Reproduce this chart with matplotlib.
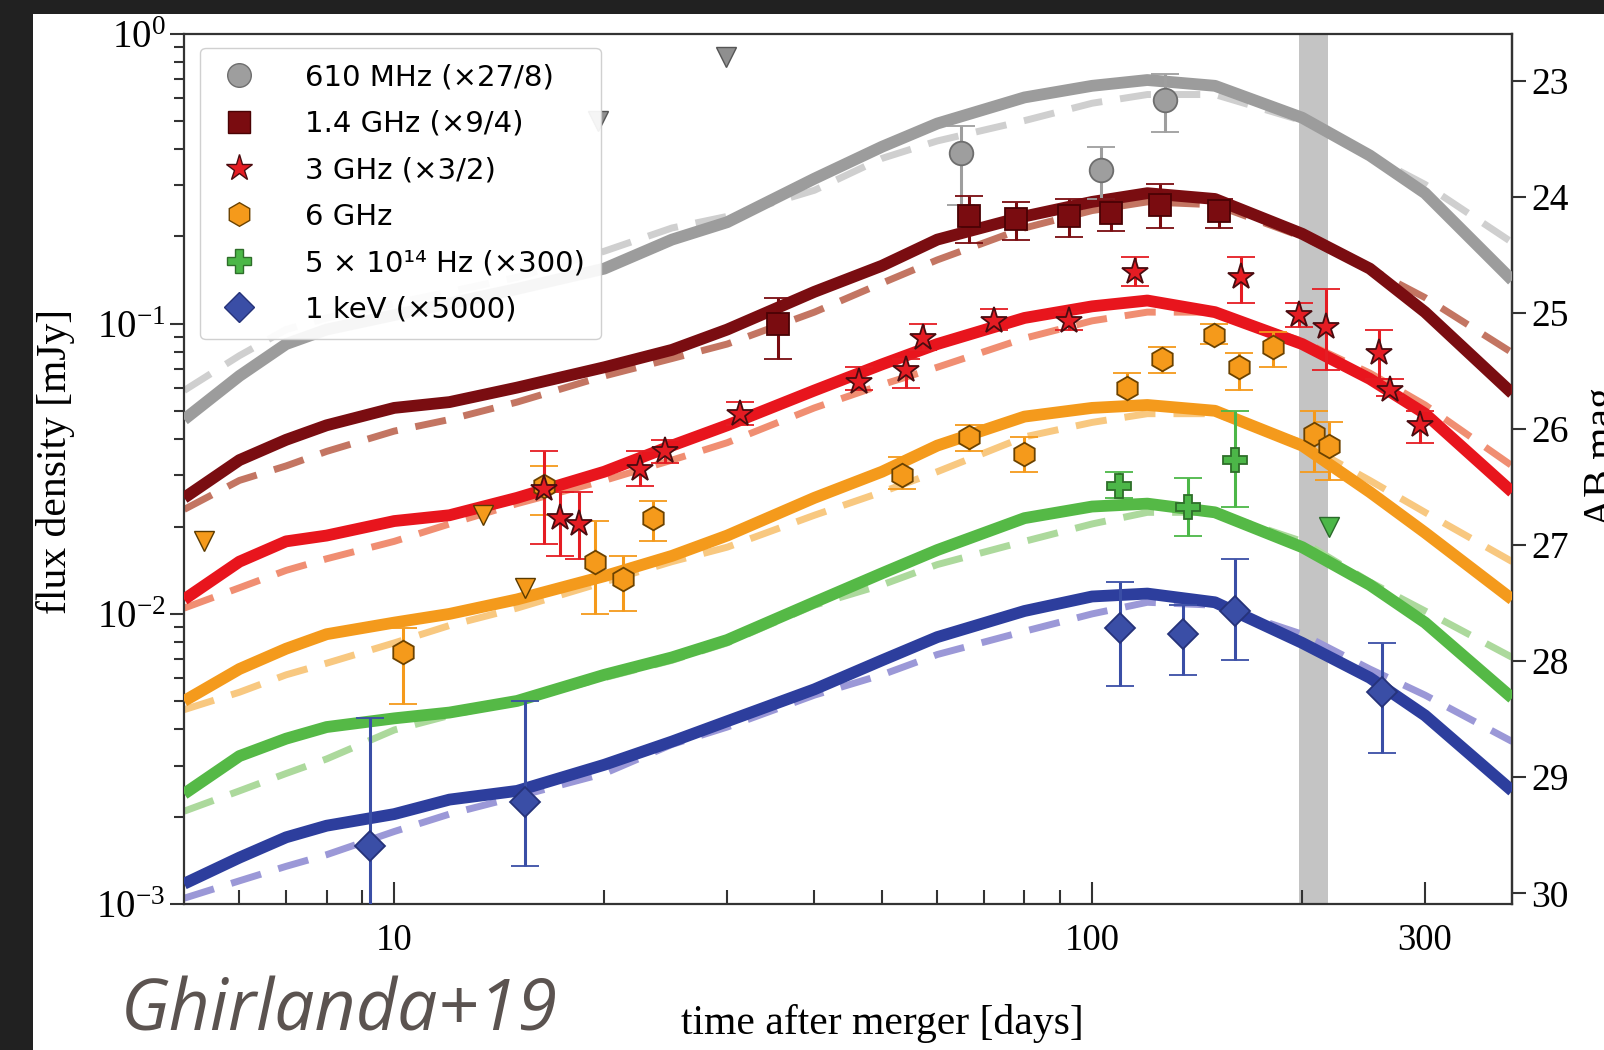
import numpy as np
import matplotlib
matplotlib.use('Agg')
import matplotlib.pyplot as plt
from matplotlib.lines import Line2D
from matplotlib.patches import Rectangle
from matplotlib.ticker import FixedLocator, FixedFormatter, FormatStrFormatter, NullLocator

plt.rcParams['font.family'] = ['Liberation Serif', 'DejaVu Serif']
plt.rcParams['mathtext.fontset'] = 'stix'

# afterglow model curves: log10 flux density [mJy] at these times [days]
t_model = [5, 6, 7, 8, 10, 12, 15, 20, 25, 30, 40, 50, 60, 80, 100, 120, 150, 200, 250, 300, 400]

gray_solid = [-1.33, -1.18, -1.07, -1.02, -0.97, -0.93, -0.88, -0.81, -0.71, -0.65, -0.50,
              -0.39, -0.31, -0.22, -0.18, -0.16, -0.18, -0.29, -0.42, -0.55, -0.85]
gray_dashed = [-1.23, -1.11, -1.02, -0.98, -0.93, -0.89, -0.84, -0.75, -0.67, -0.63, -0.54,
               -0.43, -0.37, -0.30, -0.24, -0.21, -0.21, -0.30, -0.42, -0.52, -0.72]
darkred_solid = [-1.60, -1.47, -1.40, -1.35, -1.29, -1.27, -1.22, -1.15, -1.09, -1.02, -0.89,
                 -0.80, -0.71, -0.63, -0.58, -0.55, -0.57, -0.69, -0.81, -0.96, -1.24]
darkred_dashed = [-1.64, -1.54, -1.49, -1.44, -1.37, -1.33, -1.27, -1.18, -1.12, -1.07, -0.96,
                  -0.86, -0.78, -0.67, -0.61, -0.58, -0.59, -0.70, -0.81, -0.91, -1.10]
red_solid = [-1.95, -1.82, -1.75, -1.73, -1.68, -1.66, -1.60, -1.51, -1.42, -1.35, -1.23,
             -1.14, -1.07, -0.98, -0.94, -0.92, -0.96, -1.07, -1.19, -1.31, -1.58]
red_dashed = [-1.98, -1.91, -1.85, -1.81, -1.75, -1.69, -1.62, -1.54, -1.47, -1.41, -1.29,
              -1.21, -1.15, -1.05, -0.99, -0.96, -0.96, -1.06, -1.17, -1.28, -1.49]
orange_solid = [-2.30, -2.19, -2.12, -2.07, -2.03, -2.00, -1.95, -1.87, -1.80, -1.73, -1.60,
                -1.51, -1.42, -1.32, -1.29, -1.28, -1.30, -1.42, -1.58, -1.72, -1.95]
orange_dashed = [-2.33, -2.27, -2.21, -2.17, -2.10, -2.04, -1.98, -1.89, -1.82, -1.77, -1.66,
                 -1.58, -1.51, -1.39, -1.34, -1.31, -1.31, -1.41, -1.54, -1.65, -1.82]
green_solid = [-2.62, -2.49, -2.43, -2.39, -2.36, -2.34, -2.30, -2.21, -2.15, -2.09, -1.96,
               -1.86, -1.78, -1.67, -1.63, -1.62, -1.65, -1.77, -1.90, -2.03, -2.29]
green_dashed = [-2.68, -2.61, -2.55, -2.50, -2.40, -2.35, -2.30, -2.22, -2.16, -2.10, -1.97,
                -1.90, -1.83, -1.75, -1.69, -1.65, -1.65, -1.75, -1.89, -1.99, -2.15]
blue_solid = [-2.93, -2.84, -2.77, -2.73, -2.69, -2.64, -2.61, -2.52, -2.44, -2.37, -2.26,
              -2.16, -2.08, -1.99, -1.94, -1.93, -1.96, -2.10, -2.22, -2.35, -2.61]
blue_dashed = [-2.98, -2.92, -2.87, -2.83, -2.75, -2.69, -2.63, -2.55, -2.45, -2.39, -2.28,
               -2.21, -2.14, -2.06, -2.00, -1.96, -1.97, -2.07, -2.19, -2.28, -2.44]

# detections: time [days], log10 flux [mJy], lower / upper end of error bar
t_610 = [64.9, 103.1, 127.1]
f_610 = [-0.41, -0.47, -0.23]
lo_610 = [-0.59, -0.57, -0.34]
hi_610 = [-0.32, -0.39, -0.14]

t_1400 = [35.5, 66.7, 77.9, 92.8, 106.6, 125.0, 152.0]
f_1400 = [-1.00, -0.63, -0.64, -0.63, -0.62, -0.59, -0.61]
lo_1400 = [-1.12, -0.72, -0.71, -0.70, -0.68, -0.67, -0.67]
hi_1400 = [-0.91, -0.56, -0.58, -0.57, -0.57, -0.52, -0.57]

t_3g = [16.4, 17.3, 18.4, 22.5, 24.4, 31.3, 46.3, 54.1, 57.3, 72.3, 92.8, 115.2,
        163.7, 197.8, 216.7, 257.4, 267.2, 294.6]
f_3g = [-1.57, -1.67, -1.69, -1.50, -1.44, -1.31, -1.20, -1.16, -1.05, -0.99, -0.99, -0.82,
        -0.84, -0.97, -1.01, -1.10, -1.23, -1.35]
lo_3g = [-1.76, -1.80, -1.81, -1.56, -1.48, -1.35, -1.23, -1.22, -1.09, -1.02, -1.02, -0.87,
         -0.93, -1.01, -1.16, -1.19, -1.25, -1.41]
hi_3g = [-1.44, -1.58, -1.58, -1.44, -1.40, -1.27, -1.15, -1.12, -1.00, -0.95, -0.96, -0.77,
         -0.77, -0.93, -0.88, -1.02, -1.19, -1.30]

t_6g = [10.3, 16.4, 19.4, 21.3, 23.5, 53.4, 66.7, 80.0, 112.2, 125.8, 149.5, 162.6,
        181.8, 208.1, 218.2]
f_6g = [-2.13, -1.56, -1.82, -1.88, -1.67, -1.52, -1.39, -1.45, -1.22, -1.12, -1.04, -1.15,
        -1.08, -1.38, -1.42]
lo_6g = [-2.31, -1.66, -2.00, -1.99, -1.75, -1.57, -1.44, -1.51, -1.27, -1.17, -1.07, -1.23,
         -1.15, -1.51, -1.54]
hi_6g = [-2.05, -1.49, -1.68, -1.80, -1.61, -1.46, -1.35, -1.39, -1.17, -1.08, -1.00, -1.10,
         -1.03, -1.30, -1.34]

t_opt = [109.2, 137.3, 160.4]
f_opt = [-1.56, -1.63, -1.47]
lo_opt = [-1.60, -1.73, -1.63]
hi_opt = [-1.51, -1.53, -1.30]

t_x = [9.22, 15.4, 109.6, 135.0, 160.4, 260.0]
f_x = [-2.80, -2.65, -2.05, -2.07, -1.99, -2.27]
lo_x = [-3.30, -2.87, -2.25, -2.21, -2.16, -2.48]
hi_x = [-2.36, -2.30, -1.89, -1.97, -1.81, -2.10]

# upper limits
t_ul_610 = [19.6, 29.9]
f_ul_610 = [-0.30, -0.08]
t_ul_6g = [5.34, 13.4, 15.4]
f_ul_6g = [-1.75, -1.66, -1.91]
t_ul_opt = [218.2]
f_ul_opt = [-1.70]

# days of the gray band
band = (198, 218)

labels = ['610 MHz (×27/8)', '1.4 GHz (×9/4)', '3 GHz (×3/2)', '6 GHz',
          '5 × 10¹⁴ Hz (×300)', '1 keV (×5000)']

fig = plt.figure(figsize=(16.04, 10.5), dpi=100)
fig.patch.set_facecolor('#212121')
fig.add_artist(Rectangle((33 / 1604, 0), 1, 1 - 14 / 1050, transform=fig.transFigure,
                         facecolor='white', edgecolor='none', zorder=-5))
ax = fig.add_axes([0.1148, 0.139, 0.828, 0.829])

ax.axvspan(*band, color='#c4c4c4', lw=0, zorder=1)

models = [
    (gray_solid, gray_dashed, '#9c9c9c', '#cfcfcf'),
    (darkred_solid, darkred_dashed, '#7a0d11', '#c37562'),
    (red_solid, red_dashed, '#e8151d', '#f08e72'),
    (orange_solid, orange_dashed, '#f49a1c', '#f8c880'),
    (green_solid, green_dashed, '#55b946', '#acd99c'),
    (blue_solid, blue_dashed, '#2d3e9d', '#9b98d7'),
]
for solid, dashed, c_solid, c_dash in models:
    ax.plot(t_model, np.power(10.0, dashed), color=c_dash, lw=5, dashes=(4.5, 2.6), zorder=2)
    ax.plot(t_model, np.power(10.0, solid), color=c_solid, lw=8.5, zorder=3,
            solid_capstyle='butt', solid_joinstyle='round')


def detections(t, logf, lo, hi, marker, face, edge, ms, ecolor, elw=2.2):
    f = np.power(10.0, logf)
    yerr = [f - np.power(10.0, lo), np.power(10.0, hi) - f]
    ax.errorbar(t, f, yerr=yerr, fmt=marker, ms=ms, mfc=face, mec=edge, mew=1.3,
                ecolor=ecolor, elinewidth=elw, capsize=10, capthick=elw, zorder=5)


detections(t_610, f_610, lo_610, hi_610, 'o', '#9e9e9e', '#6e6e6e', 17, '#9e9e9e')
detections(t_1400, f_1400, lo_1400, hi_1400, 's', '#7a0c10', '#4a0204', 16, '#7a0c10')
detections(t_6g, f_6g, lo_6g, hi_6g, 'h', '#f59a1b', '#6b4200', 17, '#f59a1b')
detections(t_3g, f_3g, lo_3g, hi_3g, '*', '#e51c23', '#4a0c10', 20, '#e51c23')
detections(t_opt, f_opt, lo_opt, hi_opt, 'P', '#4cb748', '#2e6e2a', 17, '#4cb748')
detections(t_x, f_x, lo_x, hi_x, 'D', '#3a4ea6', '#26337a', 15, '#3a4ea6')

ax.plot(t_ul_610, np.power(10.0, f_ul_610), 'v', ms=14, mfc='#8f8f8f', mec='#555555', zorder=5)
ax.plot(t_ul_6g, np.power(10.0, f_ul_6g), 'v', ms=14, mfc='#f59a1b', mec='#5a3a00', zorder=5)
ax.plot(t_ul_opt, np.power(10.0, f_ul_opt), 'v', ms=14, mfc='#4cb748', mec='#2a6a2a', zorder=5)

ax.set_xscale('log')
ax.set_yscale('log')
ax.set_xlim(5, 400)
ax.set_ylim(1e-3, 1)

ax.xaxis.set_major_locator(FixedLocator([10, 100, 300]))
ax.xaxis.set_major_formatter(FixedFormatter(['10', '100', '300']))
ax.xaxis.set_minor_locator(FixedLocator([6, 7, 8, 9, 20, 30, 40, 50, 60, 70, 80, 90, 200]))

ax.tick_params(axis='x', which='both', direction='in', top=False, labelsize=26.5, pad=14,
               width=1.5, color='#333333')
ax.tick_params(axis='x', which='major', length=16)
ax.tick_params(axis='x', which='minor', length=10)
ax.tick_params(axis='y', which='both', direction='out', right=False, labelsize=28,
               width=1.5, color='#333333')
ax.tick_params(axis='y', which='major', length=10)
ax.tick_params(axis='y', which='minor', length=7)
for sp in ax.spines.values():
    sp.set_linewidth(1.6)
    sp.set_color('#333333')


def to_mag(f):
    return 16.4 - 2.5 * np.log10(np.clip(f, 1e-12, None) / 300.0)


def to_flux(m):
    return 300.0 * np.power(10.0, (16.4 - np.asarray(m)) / 2.5)


# AB magnitude of the optical band, undoing its x300 scaling
secax = ax.secondary_yaxis('right', functions=(to_mag, to_flux))
secax.yaxis.set_major_locator(FixedLocator(np.arange(23, 31)))
secax.yaxis.set_major_formatter(FormatStrFormatter('%d'))
secax.yaxis.set_minor_locator(NullLocator())
secax.tick_params(direction='out', length=10, width=1.5, labelsize=27, color='#333333')
secax.spines['right'].set_linewidth(1.6)
secax.spines['right'].set_color('#333333')

ax.set_ylabel('flux density [mJy]', fontsize=30)
ax.yaxis.set_label_coords(-0.082, 0.508)
ax.set_xlabel('time after merger [days]', fontsize=30)
ax.xaxis.set_label_coords(0.5256, -0.115)
fig.text(1603 / 1604, 1 - 457 / 1050, 'AB mag', fontsize=30, rotation=90,
         ha='center', va='center')

handles = [
    Line2D([], [], ls='none', marker='o', ms=17, mfc='#9e9e9e', mec='#6e6e6e'),
    Line2D([], [], ls='none', marker='s', ms=16, mfc='#7a0c10', mec='#4a0204'),
    Line2D([], [], ls='none', marker='*', ms=20, mfc='#e51c23', mec='#4a0c10'),
    Line2D([], [], ls='none', marker='h', ms=17, mfc='#f59a1b', mec='#6b4200'),
    Line2D([], [], ls='none', marker='P', ms=17, mfc='#4cb748', mec='#2e6e2a'),
    Line2D([], [], ls='none', marker='D', ms=15, mfc='#3a4ea6', mec='#26337a'),
]
leg = ax.legend(handles, labels, loc='upper left', bbox_to_anchor=(0.0117, 0.984),
                borderaxespad=0, prop={'family': 'DejaVu Sans', 'size': 21},
                labelspacing=0.63, handletextpad=1.45, handlelength=1.6, borderpad=0.55,
                framealpha=0.92, edgecolor='#cccccc', fancybox=True)
leg.set_zorder(10)

fig.text(121 / 1604, 1 - 1012 / 1050, 'Ghirlanda+19', fontsize=51.5, style='italic',
         family='Open Sans', color='#5b5350', ha='left', va='center')

fig.savefig('out.png', dpi=100, facecolor=fig.get_facecolor())
